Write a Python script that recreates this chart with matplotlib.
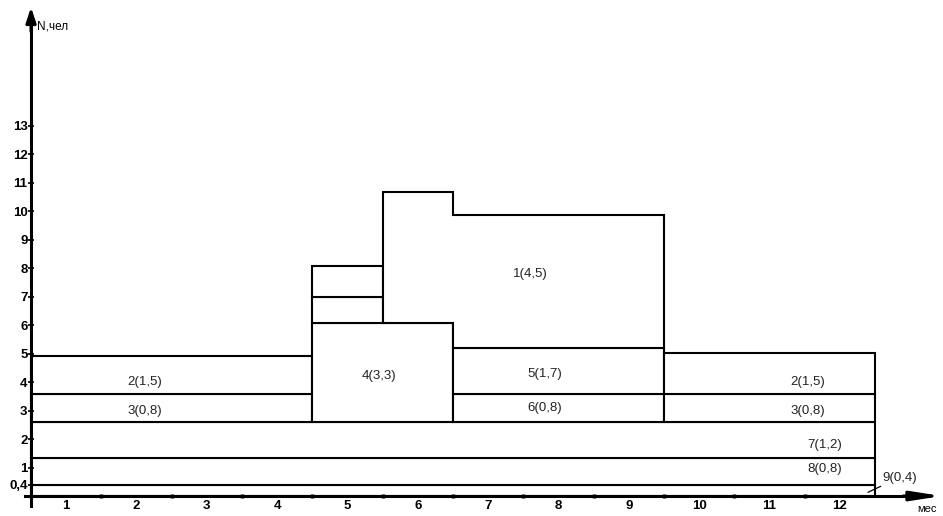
import matplotlib.pyplot as plt

plt.rcParams['font.family'] = ['Liberation Sans', 'DejaVu Sans']

# month tick labels and y ticks
months = [str(m) for m in range(1, 13)]
y_ticks = [0.4, 1, 2, 3, 4, 5, 6, 7, 8, 9, 10, 11, 12, 13]
y_tick_labels = ['0,4'] + [str(v) for v in range(1, 14)]

# rectangular blocks: start month, end month, bottom, top (people)
seg_start = [0, 0, 0, 0, 0, 4, 4, 4, 6, 6, 9, 9]
seg_end = [12, 12, 12, 4, 4, 6, 5, 5, 9, 9, 12, 12]
seg_bottom = [0, 0.4, 1.33, 2.6, 3.58, 2.6, 6.07, 6.98, 2.6, 3.58, 2.6, 3.58]
seg_top = [0.4, 1.33, 2.6, 3.58, 4.91, 6.07, 6.98, 8.07, 3.58, 5.19, 3.58, 5.02]

# block 1(4,5) is stepped: two parts
b1_start = [5, 6]
b1_end = [6, 9]
b1_bottom = [6.07, 5.19]
b1_top = [10.67, 9.86]

# labels inside blocks
lab_text = ['2(1,5)', '3(0,8)', '4(3,3)', '1(4,5)', '5(1,7)', '6(0,8)',
            '2(1,5)', '3(0,8)', '7(1,2)', '8(0,8)']
lab_x = [1.62, 1.62, 4.95, 7.1, 7.31, 7.31, 11.05, 11.05, 11.29, 11.29]
lab_y = [4.0, 2.98, 4.21, 7.79, 4.28, 3.09, 4.0, 2.98, 1.79, 0.95]

fig = plt.figure(figsize=(9.43, 5.16), dpi=100)
ax = fig.add_axes([25.4 / 943, 10 / 516, 916.4 / 943, 498.75 / 516])
ax.set_xlim(-0.08, 12.95)
ax.set_ylim(-0.35, 17.15)

widths = [e - s for s, e in zip(seg_start, seg_end)]
heights = [t - b for b, t in zip(seg_bottom, seg_top)]
ax.bar(seg_start, heights, width=widths, bottom=seg_bottom, align='edge',
       facecolor='white', edgecolor='black', linewidth=1.5)

# outline of block 1
px = [b1_start[0], b1_start[0], b1_end[0], b1_end[0], b1_end[1], b1_end[1],
      b1_start[1], b1_start[1]]
py = [b1_bottom[0], b1_top[0], b1_top[0], b1_top[1], b1_top[1], b1_bottom[1],
      b1_bottom[1], b1_bottom[0]]
ax.fill(px, py, facecolor='white', edgecolor='black', linewidth=1.5)

for t, x, y in zip(lab_text, lab_x, lab_y):
    ax.text(x, y, t, ha='center', va='center', fontsize=9.5, color='#222222')

# 9(0,4) with leader line
ax.annotate('9(0,4)', xy=(11.9, 0.13), xytext=(12.1, 0.65),
            fontsize=9.5, color='#222222', va='center', ha='left',
            arrowprops=dict(arrowstyle='-', lw=0.9, color='black',
                            shrinkA=0, shrinkB=0))

# axes as arrows
for s in ['top', 'right']:
    ax.spines[s].set_visible(False)
ax.spines['left'].set_position(('data', 0))
ax.spines['bottom'].set_position(('data', 0))
ax.spines['left'].set_linewidth(2.2)
ax.spines['bottom'].set_linewidth(2.2)
ax.spines['left'].set_bounds(-0.35, 16.6)
ax.spines['bottom'].set_bounds(-0.08, 12.5)
ax.annotate('', xy=(0, 17.15), xytext=(0, 16.3),
            arrowprops=dict(arrowstyle='-|>,head_length=0.9,head_width=0.3',
                            color='black', lw=2.2, shrinkA=0, shrinkB=0))
ax.annotate('', xy=(12.95, 0), xytext=(12.4, 0),
            arrowprops=dict(arrowstyle='-|>,head_length=1.8,head_width=0.28',
                            color='black', lw=2.2, shrinkA=0, shrinkB=0))

ax.set_yticks(y_ticks)
ax.set_yticklabels(y_tick_labels, fontweight='bold', fontsize=9.5)
ax.tick_params(axis='y', direction='inout', length=4, width=1.2, pad=0.5)

ax.set_xticks(range(1, 12))
ax.set_xticklabels([])
ax.tick_params(axis='x', which='major', direction='inout', length=2.5,
               width=2.5, color='black')
ax.set_xticks([m - 0.5 for m in range(1, 13)], minor=True)
ax.set_xticklabels(months, minor=True, fontweight='bold', fontsize=9.5)
ax.tick_params(axis='x', which='minor', length=0, pad=3)

ax.text(0.085, 16.46, 'N,чел', fontsize=8.5, va='center', ha='left')
ax.text(12.74, -0.45, 'мес', fontsize=8, va='center', ha='center')

fig.savefig('out.png', dpi=100)
